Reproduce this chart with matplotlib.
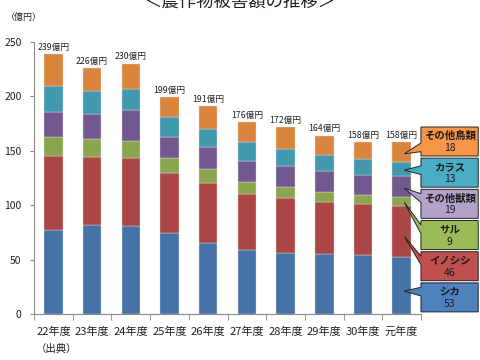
import numpy as np
import matplotlib
matplotlib.use('Agg')
import matplotlib.pyplot as plt
from matplotlib.patches import Polygon

plt.rcParams['font.family'] = ['Noto Sans CJK JP', 'DejaVu Sans']

# data (億円)
years = ['22年度', '23年度', '24年度', '25年度', '26年度', '27年度', '28年度', '29年度', '30年度', '元年度']
shika = [77, 82, 81, 75, 65, 59, 56, 55, 54, 53]
inoshishi = [68, 62, 62, 55, 55, 51, 51, 48, 47, 46]
saru = [18, 17, 16, 13, 13, 11, 10, 9, 8, 9]
other_beasts = [23, 23, 28, 20, 20, 20, 19, 19, 19, 19]
karasu = [23, 21, 20, 18, 17, 17, 16, 15, 14, 13]
other_birds = [30, 21, 23, 18, 21, 18, 20, 18, 16, 18]
totals = [239, 226, 230, 199, 191, 176, 172, 164, 158, 158]

names = ['シカ', 'イノシシ', 'サル', 'その他獣類', 'カラス', 'その他鳥類']
series = [shika, inoshishi, saru, other_beasts, karasu, other_birds]
bar_colors = ['#4572A7', '#AA4643', '#89A54E', '#71588F', '#4198AF', '#DB843D']
box_colors = ['#4F81BD', '#C0504D', '#9BBB59', '#B3A2C7', '#4BACC6', '#F79646']

fig = plt.figure(figsize=(4.8, 3.6), dpi=100)
ax = fig.add_axes([0.071, 0.127, 0.806, 0.757])

x = np.arange(len(years))
bottom = np.zeros(len(years))
for vals, c in zip(series, bar_colors):
    ax.bar(x, vals, 0.48, bottom=bottom, color=c, edgecolor='#dddddd', linewidth=0.3)
    bottom += np.array(vals)

for i, t in enumerate(totals):
    ax.text(x[i], t + 2, str(t) + '億円', ha='center', va='bottom', fontsize=6.3, color='#222222')

ax.set_xlim(-0.5, len(years) - 0.5)
ax.set_ylim(0, 250)
ax.set_yticks(range(0, 251, 50))
ax.set_xticks(x)
ax.set_xticklabels(years, fontsize=8)
ax.set_xticks(np.arange(-0.5, len(years), 1), minor=True)
ax.tick_params(axis='x', which='major', length=0, pad=9, colors='#222222')
ax.tick_params(axis='x', which='minor', length=4, color='#888888')
ax.tick_params(axis='y', length=3, color='#888888', labelsize=7.5, labelcolor='#222222', pad=6)
for s in ['top', 'right']:
    ax.spines[s].set_visible(False)
for s in ['left', 'bottom']:
    ax.spines[s].set_color('#888888')
    ax.spines[s].set_linewidth(0.8)

# callouts for the last year
last = len(years) - 1
cum = 0
bx0, bx1 = 9.5, 10.98
bh = 13.3
for i, (nm, vals, fc) in enumerate(zip(names, series, box_colors)):
    v = vals[last]
    tip_y = cum + 0.4 * v
    cum += v
    yc = 15.5 + i * 28.6
    top, bot = yc + bh, yc - bh
    bc = min(max(tip_y, bot + 0.3 * 2 * bh), top - 0.3 * 2 * bh)
    w = 0.15 * 2 * bh
    pts = [(bx0, top), (bx1, top), (bx1, bot), (bx0, bot),
           (bx0, bc - w), (x[last] + 0.07, tip_y), (bx0, bc + w)]
    ax.add_patch(Polygon(pts, closed=True, facecolor=fc, edgecolor='#222222',
                         linewidth=0.7, clip_on=False, zorder=5))
    xm = (bx0 + bx1) / 2
    ax.text(xm, yc + 5, nm, ha='center', va='center', fontsize=7.5, fontweight='bold',
            color='#1a1a1a', zorder=6, clip_on=False)
    ax.text(xm, yc - 6, str(v), ha='center', va='center', fontsize=7.5,
            color='#1a1a2a', zorder=6, clip_on=False)

fig.text(0.5, 1 - 1.5 / 360, '＜農作物被害額の推移＞', ha='center', va='center', fontsize=12.5, color='#222222')
fig.text(0.013, 1 - 17.5 / 360, '（億円）', ha='left', va='center', fontsize=6.5, color='#222222')
fig.text(0.075, 1 - 349 / 360, '（出典）', ha='left', va='center', fontsize=7.5, color='#222222')

fig.savefig('out.png', dpi=100)
